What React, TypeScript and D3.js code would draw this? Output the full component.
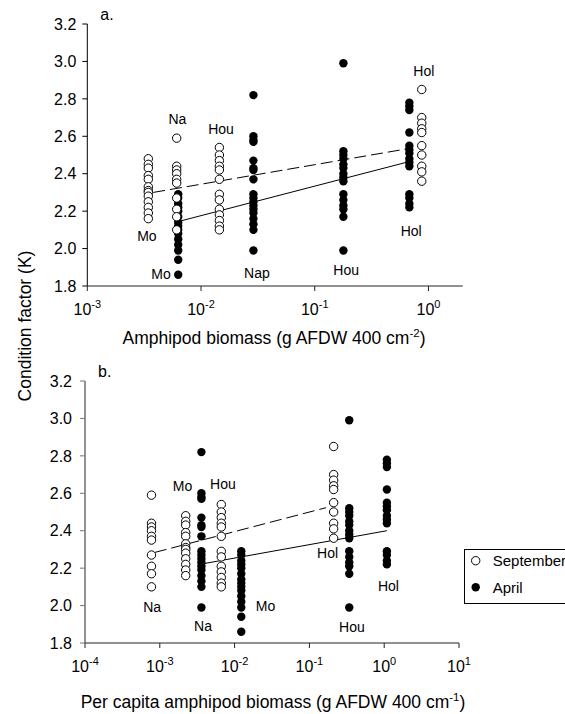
import React from 'react';
import * as d3 from 'd3';

// condition factor (K) per site and season
const moSep = [2.48, 2.45, 2.43, 2.39, 2.37, 2.33, 2.31, 2.30, 2.28, 2.25, 2.22, 2.19, 2.16];
const naSep = [2.59, 2.44, 2.42, 2.40, 2.37, 2.35, 2.27, 2.21, 2.17, 2.10];
const houSep = [2.54, 2.50, 2.47, 2.44, 2.42, 2.37, 2.29, 2.26, 2.21, 2.18, 2.15, 2.12, 2.10];
const holSep = [2.85, 2.70, 2.67, 2.64, 2.62, 2.55, 2.50, 2.44, 2.41, 2.36];
const moApr = [2.29, 2.27, 2.24, 2.22, 2.20, 2.17, 2.14, 2.12, 2.10, 2.08, 2.05, 2.02, 1.99, 1.94, 1.86];
const naApr = [2.82, 2.60, 2.58, 2.57, 2.47, 2.43, 2.42, 2.37, 2.29, 2.27, 2.25, 2.23, 2.21, 2.19, 2.16, 2.13, 2.10, 1.99];
const houApr = [2.99, 2.52, 2.50, 2.48, 2.45, 2.43, 2.40, 2.38, 2.36, 2.29, 2.26, 2.23, 2.21, 2.17, 1.99];
const holApr = [2.78, 2.76, 2.74, 2.62, 2.55, 2.53, 2.51, 2.48, 2.46, 2.44, 2.29, 2.27, 2.24, 2.22];

// amphipod biomass (panel a) and per capita biomass (panel b) for each group
const biomassA = { moSep: 0.00344, naSep: 0.00611, houSep: 0.0145, holSep: 0.873, moApr: 0.0063, naApr: 0.0289, houApr: 0.1786, holApr: 0.679 };
const biomassB = { moSep: 0.00222, naSep: 0.000774, houSep: 0.00664, holSep: 0.211, moApr: 0.01228, naApr: 0.0036, houApr: 0.341, holApr: 1.086 };

const septGroups = [['moSep', moSep], ['naSep', naSep], ['houSep', houSep], ['holSep', holSep]] as const;
const aprGroups = [['moApr', moApr], ['naApr', naApr], ['houApr', houApr], ['holApr', holApr]] as const;

// regression line end points [x, K]
const fitSepA = [[0.0038, 2.30], [0.679, 2.535]];
const fitAprA = [[0.00676, 2.149], [0.679, 2.465]];
const fitSepB = [[0.000857, 2.284], [0.167, 2.523]];
const fitAprB = [[0.00398, 2.225], [1.086, 2.40]];

// site labels [text, x, K]
const labelsA: [string, number, number][] = [
  ['Mo', 0.00334, 2.066], ['Na', 0.0062, 2.69], ['Hou', 0.015, 2.64], ['Mo', 0.00445, 1.863],
  ['Nap', 0.031, 1.868], ['Hou', 0.189, 1.884], ['Hol', 0.705, 2.093], ['Hol', 0.91, 2.949],
];
const labelsB: [string, number, number][] = [
  ['Mo', 0.00201, 2.64], ['Hou', 0.00699, 2.649], ['Na', 0.00079, 1.993], ['Na', 0.00378, 1.891],
  ['Mo', 0.0259, 1.998], ['Hol', 0.175, 2.279], ['Hol', 1.14, 2.104], ['Hou', 0.37, 1.886],
];

const yTicks = [1.8, 2.0, 2.2, 2.4, 2.6, 2.8, 3.0, 3.2];
const expA = [-3, -2, -1, 0];
const expB = [-4, -3, -2, -1, 0, 1];

const FONT = '"Liberation Sans", Arial, sans-serif';
const R = 4.2;

type PanelProps = {
  letter: string;
  xDomain: [number, number];
  xRange: [number, number];
  yRange: [number, number];
  exps: number[];
  bx: Record<string, number>;
  fitSep: number[][];
  fitApr: number[][];
  labels: [string, number, number][];
  yAxisColor: string;
  tickGap: number;
};

function Panel(p: PanelProps) {
  const x = d3.scaleLog().domain(p.xDomain).range(p.xRange);
  const y = d3.scaleLinear().domain([1.8, 3.2]).range(p.yRange);
  const line = d3.line<number[]>().x(d => x(d[0])).y(d => y(d[1]));
  const x0 = p.xRange[0];
  const yb = p.yRange[0];
  return (
    <g fontFamily={FONT}>
      {/* y axis */}
      <line x1={x0} x2={x0} y1={y(3.2)} y2={yb} stroke={p.yAxisColor} strokeWidth={p.yAxisColor === '#000' ? 1 : 1.6} />
      {yTicks.map(t => (
        <g key={t}>
          <line x1={x0 - 5} x2={x0} y1={y(t)} y2={y(t)} stroke={p.yAxisColor} />
          <text x={x0 - p.tickGap} y={y(t)} dy="0.36em" textAnchor="end" fontSize={16}>{t.toFixed(1)}</text>
        </g>
      ))}
      {/* x axis */}
      <line x1={x0} x2={p.xRange[1]} y1={yb} y2={yb} stroke="#222" />
      {p.exps.map(e => (
        <g key={e}>
          <line x1={x(Math.pow(10, e))} x2={x(Math.pow(10, e))} y1={yb} y2={yb + 5} stroke="#222" />
          <text x={x(Math.pow(10, e))} y={yb + 29} textAnchor="middle" fontSize={16}>
            10<tspan dy="-7" fontSize={11}>{e}</tspan>
          </text>
        </g>
      ))}
      <text x={x0 + 13} y={y(3.2) - 4} fontSize={16}>{p.letter}</text>
      {/* fits */}
      <path d={line(p.fitApr) || ''} fill="none" stroke="#000" strokeWidth={1} />
      <path d={line(p.fitSep) || ''} fill="none" stroke="#000" strokeWidth={1} strokeDasharray="12,5" />
      {/* April: filled */}
      {aprGroups.map(([k, vals]) => vals.map((v, i) => (
        <circle key={k + i} cx={x(p.bx[k])} cy={y(v)} r={R} fill="#000" />
      )))}
      {/* September: open */}
      {septGroups.map(([k, vals]) => vals.map((v, i) => (
        <circle key={k + i} cx={x(p.bx[k])} cy={y(v)} r={R} fill="#fff" stroke="#000" strokeWidth={1} />
      )))}
      {p.labels.map(([t, lx, ly], i) => (
        <text key={i} x={x(lx)} y={y(ly)} dy="0.36em" textAnchor="middle" fontSize={14}>{t}</text>
      ))}
    </g>
  );
}

export default function App() {
  return (
    <svg width={565} height={714} style={{ position: 'absolute', left: 0, top: 0, background: '#fff' }}
      fontFamily={FONT}>
      <Panel letter="a." xDomain={[0.001, 2]} xRange={[87.3, 462.7]} yRange={[286, 24]} exps={expA}
        bx={biomassA} fitSep={fitSepA} fitApr={fitAprA} labels={labelsA} yAxisColor="#000" tickGap={11} />
      <Panel letter="b." xDomain={[0.0001, 10]} xRange={[85, 459]} yRange={[643, 381]} exps={expB}
        bx={biomassB} fitSep={fitSepB} fitApr={fitAprB} labels={labelsB} yAxisColor="#777" tickGap={13} />
      <text x={274} y={344} textAnchor="middle" fontSize={17.5}>
        Amphipod biomass (g AFDW 400 cm<tspan dy="-7" fontSize={11.5}>-2</tspan><tspan dy="7">)</tspan>
      </text>
      <text x={273} y={708} textAnchor="middle" fontSize={17.5}>
        Per capita amphipod biomass (g AFDW 400 cm<tspan dy="-7" fontSize={11.5}>-1</tspan><tspan dy="7">)</tspan>
      </text>
      <text transform="translate(31,326) rotate(-90)" textAnchor="middle" fontSize={17.5}>Condition factor (K)</text>
      {/* legend */}
      <rect x={464.5} y={549.5} width={110} height={54} fill="#fff" stroke="#000" />
      <circle cx={475.7} cy={560.7} r={R} fill="#fff" stroke="#000" />
      <text x={492.7} y={561} dy="0.36em" fontSize={15}>September</text>
      <circle cx={475.7} cy={587.3} r={R} fill="#000" />
      <text x={492.7} y={588} dy="0.36em" fontSize={15}>April</text>
    </svg>
  );
}
